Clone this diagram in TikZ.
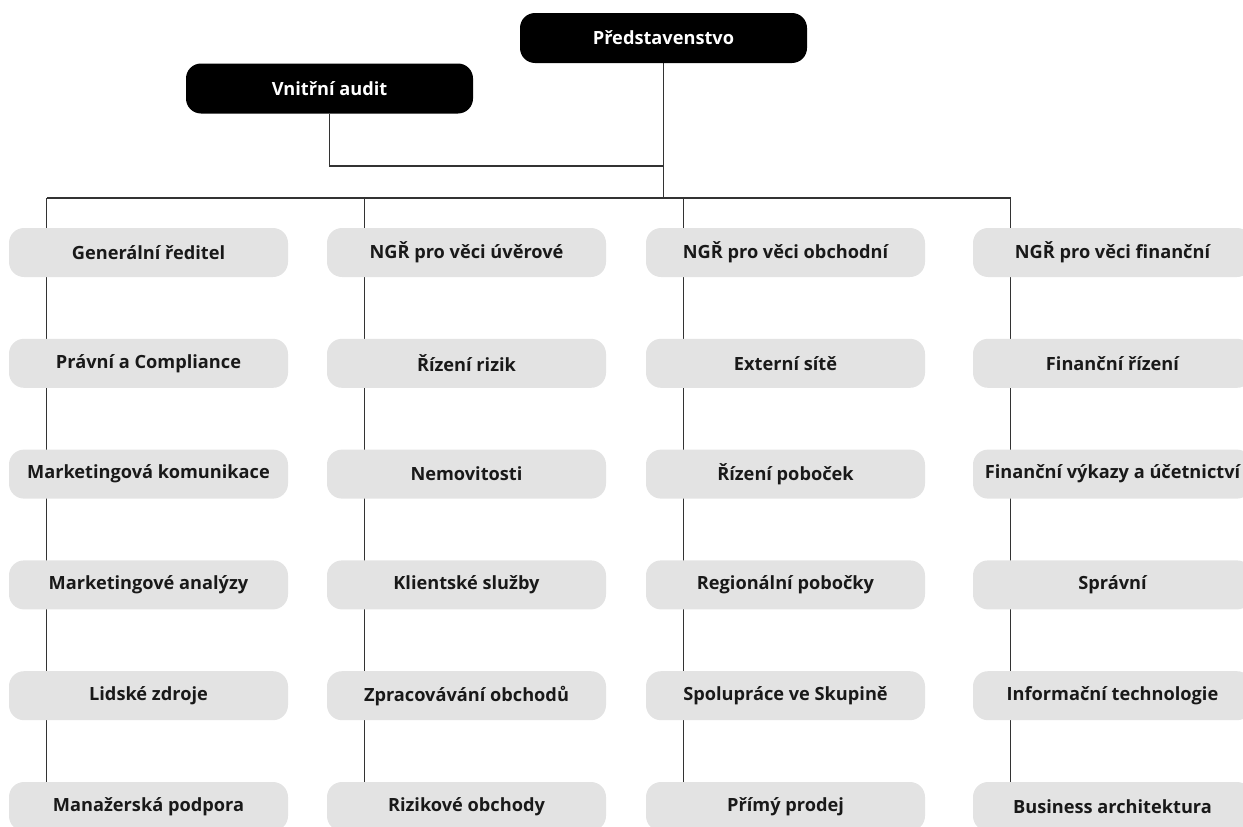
\documentclass[tikz,border=0pt]{standalone}
\usepackage{fontspec}
\setmainfont{Open Sans}
\usepackage{tikz}
\usetikzlibrary{backgrounds}
\definecolor{boxgrey}{RGB}{227,227,227}
\definecolor{linegrey}{RGB}{51,51,51}
\newcommand{\widthbox}{279pt}
\newcommand{\widthboard}{287pt}
\newcommand{\lineshift}{38pt}
\tikzset{
    common/.style={rectangle, rounded corners=15pt, font=\fontsize{18.2}{21}\selectfont\bfseries, inner xsep=4pt},
    unit/.style={common, fill=boxgrey, text=black!90, minimum width=\widthbox, minimum height=49pt},
    board/.style={common, fill=black, text=white, minimum width=\widthboard, minimum height=50pt},
    link/.style={draw=linegrey, line width=1.1pt}
}
\begin{document}
\begin{tikzpicture}[x=1pt, y=-1pt]
    \useasboundingbox (0,0) rectangle (1243,827);

    % top
    \node[board] (board) at (663.5,38) {Představenstvo};
    \node[board] (audit) at (329.5,88.5) {Vnitřní audit};
    \coordinate (bus) at (663.5,198);

    % column 1
    \node[unit] (ceo)   at (148.5,252.5) {Generální ředitel};
    \node[unit] (legal) at (148.5,363.3) {Právní a Compliance};
    \node[unit] (mkcom) at (148.5,474.1) {Marketingová komunikace};
    \node[unit] (mkan)  at (148.5,584.9) {Marketingové analýzy};
    \node[unit] (hr)    at (148.5,695.7) {Lidské zdroje};
    \node[unit] (mgmt)  at (148.5,806.5) {Manažerská podpora};

    % column 2
    \node[unit] (credit) at (466.5,252.5) {NGŘ pro věci úvěrové};
    \node[unit] (risk)   at (466.5,363.3) {Řízení rizik};
    \node[unit] (estate) at (466.5,474.1) {Nemovitosti};
    \node[unit] (client) at (466.5,584.9) {Klientské služby};
    \node[unit] (proc)   at (466.5,695.7) {Zpracovávání obchodů};
    \node[unit] (rbus)   at (466.5,806.5) {Rizikové obchody};

    % column 3
    \node[unit] (trade)  at (785.5,252.5) {NGŘ pro věci obchodní};
    \node[unit] (extnet) at (785.5,363.3) {Externí sítě};
    \node[unit] (brmgmt) at (785.5,474.1) {Řízení poboček};
    \node[unit] (region) at (785.5,584.9) {Regionální pobočky};
    \node[unit] (group)  at (785.5,695.7) {Spolupráce ve Skupině};
    \node[unit] (direct) at (785.5,806.5) {Přímý prodej};

    % column 4
    \node[unit] (fin)    at (1112.5,252.5) {NGŘ pro věci finanční};
    \node[unit] (finmg)  at (1112.5,363.3) {Finanční řízení};
    \node[unit] (report) at (1112.5,474.1) {Finanční výkazy a účetnictví};
    \node[unit] (admin)  at (1112.5,584.9) {Správní};
    \node[unit] (it)     at (1112.5,695.7) {Informační technologie};
    \node[unit] (arch)   at (1112.5,806.5) {Business architektura};

    \begin{pgfonlayer}{background}
        \draw[link] (board) -- (bus);
        \draw[link] (audit) |- ([yshift=32pt]bus);
        \draw[link] ([xshift=\lineshift]ceo.north west |- bus) -- ([xshift=\lineshift]fin.north west |- bus);
        \draw[link] ([xshift=\lineshift]ceo.north west |- bus) -- ([xshift=\lineshift]mgmt.north west);
        \draw[link] ([xshift=\lineshift]credit.north west |- bus) -- ([xshift=\lineshift]rbus.north west);
        \draw[link] ([xshift=\lineshift]trade.north west |- bus) -- ([xshift=\lineshift]direct.north west);
        \draw[link] ([xshift=\lineshift]fin.north west |- bus) -- ([xshift=\lineshift]arch.north west);
    \end{pgfonlayer}
\end{tikzpicture}
\end{document}
